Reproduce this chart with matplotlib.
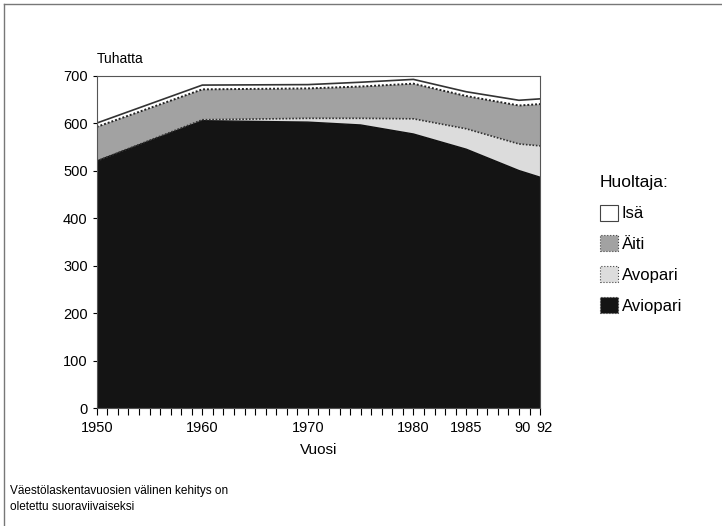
import numpy as np
import matplotlib.pyplot as plt
import matplotlib.transforms as mtransforms
from matplotlib.patches import Patch
from matplotlib.lines import Line2D

plt.rcParams['font.family'] = ['Liberation Sans', 'DejaVu Sans']

# census years (linear development assumed in between)
years = [1950, 1960, 1970, 1975, 1980, 1985, 1990, 1992]
aviopari = [520, 605, 602, 596, 577, 545, 500, 486]
avopari = [0, 2, 8, 14, 32, 43, 56, 66]
aiti = [72, 64, 63, 67, 74, 69, 81, 88]
isa = [8, 9, 8, 9, 9, 9, 11, 11]

labels = ['Aviopari', 'Avopari', 'Äiti', 'Isä']
colors = ['#141414', '#dcdcdc', '#a2a2a2', '#ffffff']
tick_years = [1950, 1960, 1970, 1980, 1985, 1990, 1992]
tick_labels = ['1950', '1960', '1970', '1980', '1985', '90', '92']

fig = plt.figure(figsize=(7.22, 5.26), dpi=100)
ax = fig.add_axes([0.134, 0.2243, 0.614, 0.632])

series = [aviopari, avopari, aiti, isa]
ax.stackplot(years, *series, colors=colors, linewidth=0)
cum = np.cumsum(np.array(series), axis=0)
ax.plot(years, cum[0], color='#111111', lw=1.0)
ax.plot(years, cum[1], color='#333333', lw=1.2, ls=(0, (1, 1)))
ax.plot(years, cum[2], color='#222222', lw=1.4, ls=(0, (1, 1)))
ax.plot(years, cum[3], color='#333333', lw=1.2)

ax.set_xlim(1950, 1992)
ax.set_ylim(0, 700)
ax.set_yticks(range(0, 701, 100))
ax.set_xticks(tick_years)
ax.set_xticklabels(tick_labels)
ax.set_xticks(range(1950, 1993), minor=True)
ax.tick_params(axis='x', which='both', direction='out', length=5, width=0.8, labelsize=10.5, pad=4)
ax.tick_params(axis='y', direction='out', length=3, width=0.8, labelsize=10.5)
# "90 92" sits a little to the right in the original
shift = mtransforms.ScaledTranslation(4 / 100, 0, fig.dpi_scale_trans)
for lab in ax.get_xticklabels():
    if lab.get_text() in ('90', '92'):
        lab.set_transform(lab.get_transform() + shift)
for s in ax.spines.values():
    s.set_color('#555555')
    s.set_linewidth(0.8)

ax.set_xlabel('Vuosi', fontsize=11, labelpad=6)
fig.text(0.134, 0.875, 'Tuhatta', fontsize=10, ha='left', va='bottom')

handles = [Patch(facecolor=colors[i], edgecolor='#444444', lw=0.8, ls=':' if i < 3 else '-')
           for i in [3, 2, 1, 0]]
leg = fig.legend(handles, [labels[i] for i in [3, 2, 1, 0]], title='Huoltaja:',
                 loc='upper left', bbox_to_anchor=(0.81, 0.695), frameon=False,
                 fontsize=12, title_fontsize=12.5, handlelength=1.1, handleheight=1.1,
                 handletextpad=0.2, labelspacing=0.85)
leg._legend_box.align = 'left'

fig.text(0.014, 0.025, 'Väestölaskentavuosien välinen kehitys on\noletettu suoraviivaiseksi',
         fontsize=8.5, ha='left', va='bottom', linespacing=1.4)

# page frame (top and left)
fig.add_artist(Line2D([0.006, 0.006], [0.0, 0.993], color='#777777', lw=1.0))
fig.add_artist(Line2D([0.006, 1.0], [0.993, 0.993], color='#777777', lw=1.0))

fig.savefig('out.png', dpi=100)
